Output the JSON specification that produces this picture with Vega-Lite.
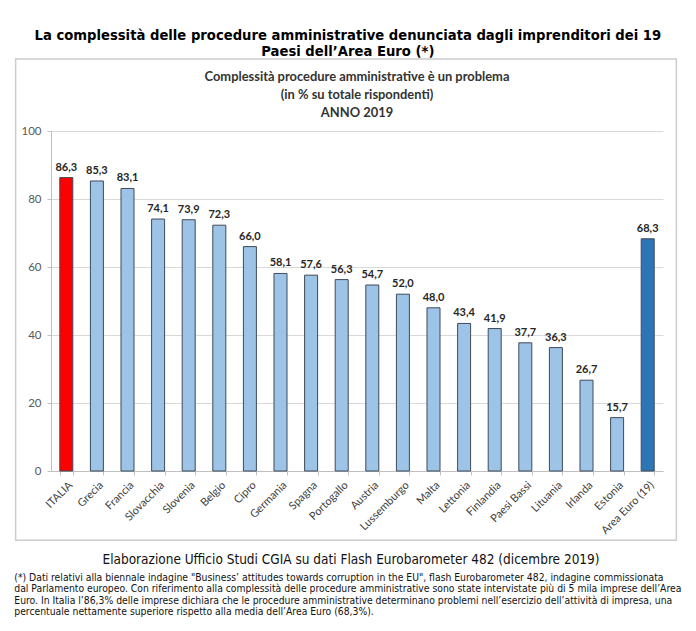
{
  "$schema": "https://vega.github.io/schema/vega-lite/v6.json",
  "background": "white",
  "padding": {"left": 14, "top": 28, "right": 5, "bottom": 5},
  "config": {
    "view": {"stroke": null},
    "locale": {"number": {"decimal": ",", "thousands": ".", "grouping": [3], "currency": ["€", ""]}}
  },
  "title": {
    "text": ["La complessità delle procedure amministrative denunciata dagli imprenditori dei 19", "Paesi dell’Area Euro (*)"],
    "font": "DejaVu Sans", "fontSize": 13.2, "fontWeight": "bold", "color": "#000000",
    "lineHeight": 16, "anchor": "middle", "offset": -1
  },
  "spacing": 10,
  "vconcat": [
    {
      "width": 612,
      "height": 340,
      "title": {
        "text": ["Complessità procedure amministrative è un problema", "(in % su totale rispondenti)", "ANNO 2019"],
        "font": "Lato", "fontSize": 12.9, "fontWeight": "bold", "color": "#333333",
        "lineHeight": 18, "anchor": "middle", "offset": -62
      },
      "resolve": {"scale": {"x": "independent"}},
      "layer": [
        {
          "data": {"values": [{}]},
          "mark": {"type": "rect", "fill": null, "stroke": "#cccccc", "strokeWidth": 1.5},
          "encoding": {
            "x": {"datum": -0.0578, "type": "quantitative", "scale": {"domain": [0, 1]}, "axis": null},
            "x2": {"datum": 1.0218},
            "y": {"datum": 121.2, "type": "quantitative", "scale": {"domain": [0, 100]}, "title": null,
              "axis": {"title": null, "values": [0, 20, 40, 60, 80, 100], "labelFont": "Lato", "labelFontSize": 11.5, "labelColor": "#595959", "labelPadding": 6, "tickSize": 4, "tickColor": "#bfbfbf", "domainColor": "#bfbfbf", "gridColor": "#d9d9d9", "grid": true}},
            "y2": {"datum": -20.4}
          }
        },
        {
          "data": {"values": [
            {"paese": "ITALIA", "valore": 86.3, "gruppo": "Italia"},
            {"paese": "Grecia", "valore": 85.3, "gruppo": "Paesi"},
            {"paese": "Francia", "valore": 83.1, "gruppo": "Paesi"},
            {"paese": "Slovacchia", "valore": 74.1, "gruppo": "Paesi"},
            {"paese": "Slovenia", "valore": 73.9, "gruppo": "Paesi"},
            {"paese": "Belgio", "valore": 72.3, "gruppo": "Paesi"},
            {"paese": "Cipro", "valore": 66.0, "gruppo": "Paesi"},
            {"paese": "Germania", "valore": 58.1, "gruppo": "Paesi"},
            {"paese": "Spagna", "valore": 57.6, "gruppo": "Paesi"},
            {"paese": "Portogallo", "valore": 56.3, "gruppo": "Paesi"},
            {"paese": "Austria", "valore": 54.7, "gruppo": "Paesi"},
            {"paese": "Lussemburgo", "valore": 52.0, "gruppo": "Paesi"},
            {"paese": "Malta", "valore": 48.0, "gruppo": "Paesi"},
            {"paese": "Lettonia", "valore": 43.4, "gruppo": "Paesi"},
            {"paese": "Finlandia", "valore": 41.9, "gruppo": "Paesi"},
            {"paese": "Paesi Bassi", "valore": 37.7, "gruppo": "Paesi"},
            {"paese": "Lituania", "valore": 36.3, "gruppo": "Paesi"},
            {"paese": "Irlanda", "valore": 26.7, "gruppo": "Paesi"},
            {"paese": "Estonia", "valore": 15.7, "gruppo": "Paesi"},
            {"paese": "Area Euro (19)", "valore": 68.3, "gruppo": "Area Euro"}
          ]},
          "encoding": {
            "x": {"field": "paese", "type": "nominal", "sort": null,
              "scale": {"paddingInner": 0.575, "paddingOuter": 0.2875},
              "axis": {"title": null, "labelAngle": -45, "labelAlign": "right", "labelBaseline": "top", "labelFont": "Lato", "labelFontSize": 11, "labelColor": "#404040", "labelPadding": 4, "tickBand": "extent", "ticks": true, "tickColor": "#bfbfbf", "tickSize": 4, "domainColor": "#bfbfbf", "grid": false}},
            "y": {"field": "valore", "type": "quantitative", "scale": {"domain": [0, 100]}, "title": null,
              "axis": {"title": null, "values": [0, 20, 40, 60, 80, 100], "labelFont": "Lato", "labelFontSize": 11.5, "labelColor": "#595959", "labelPadding": 6, "tickSize": 4, "tickColor": "#bfbfbf", "domainColor": "#bfbfbf", "gridColor": "#d9d9d9", "grid": true}}
          },
          "layer": [
            {
              "mark": {"type": "bar", "stroke": "#3e4a5a", "strokeWidth": 1},
              "encoding": {
                "color": {"field": "gruppo", "type": "nominal",
                  "scale": {"domain": ["Italia", "Paesi", "Area Euro"], "range": ["#ff0000", "#9dc3e6", "#2e75b6"]},
                  "legend": null}
              }
            },
            {
              "mark": {"type": "text", "font": "Lato", "fontWeight": "bold", "fontSize": 11, "color": "#262626", "baseline": "alphabetic", "dy": -7},
              "encoding": {
                "text": {"field": "valore", "type": "quantitative", "format": ".1f"}
              }
            }
          ]
        }
      ]
    },
    {
      "width": 600,
      "height": 1,
      "title": {
        "text": "Elaborazione Ufficio Studi CGIA su dati Flash Eurobarometer 482 (dicembre 2019)",
        "font": "DejaVu Sans Condensed", "fontSize": 13.5, "fontWeight": "normal", "color": "#111111",
        "anchor": "middle", "offset": 6
      },
      "data": {"values": [
        {"righe": [
          "(*) Dati relativi alla biennale indagine \"Business’ attitudes towards corruption in the EU\", flash Eurobarometer 482, indagine commissionata",
          "dal Parlamento europeo. Con riferimento alla complessità delle procedure amministrative sono state intervistate più di 5 mila imprese dell’Area",
          "Euro. In Italia l’86,3% delle imprese dichiara che le procedure amministrative determinano problemi nell’esercizio dell’attività di impresa, una",
          "percentuale nettamente superiore rispetto alla media dell’Area Euro (68,3%)."
        ]}
      ]},
      "mark": {"type": "text", "align": "left", "baseline": "top", "font": "DejaVu Sans Condensed", "fontSize": 10.3, "lineHeight": 11.6, "color": "#111111"},
      "encoding": {
        "x": {"datum": -0.0612, "type": "quantitative", "scale": {"domain": [0, 1]}, "axis": null},
        "text": {"field": "righe"}
      }
    }
  ]
}
